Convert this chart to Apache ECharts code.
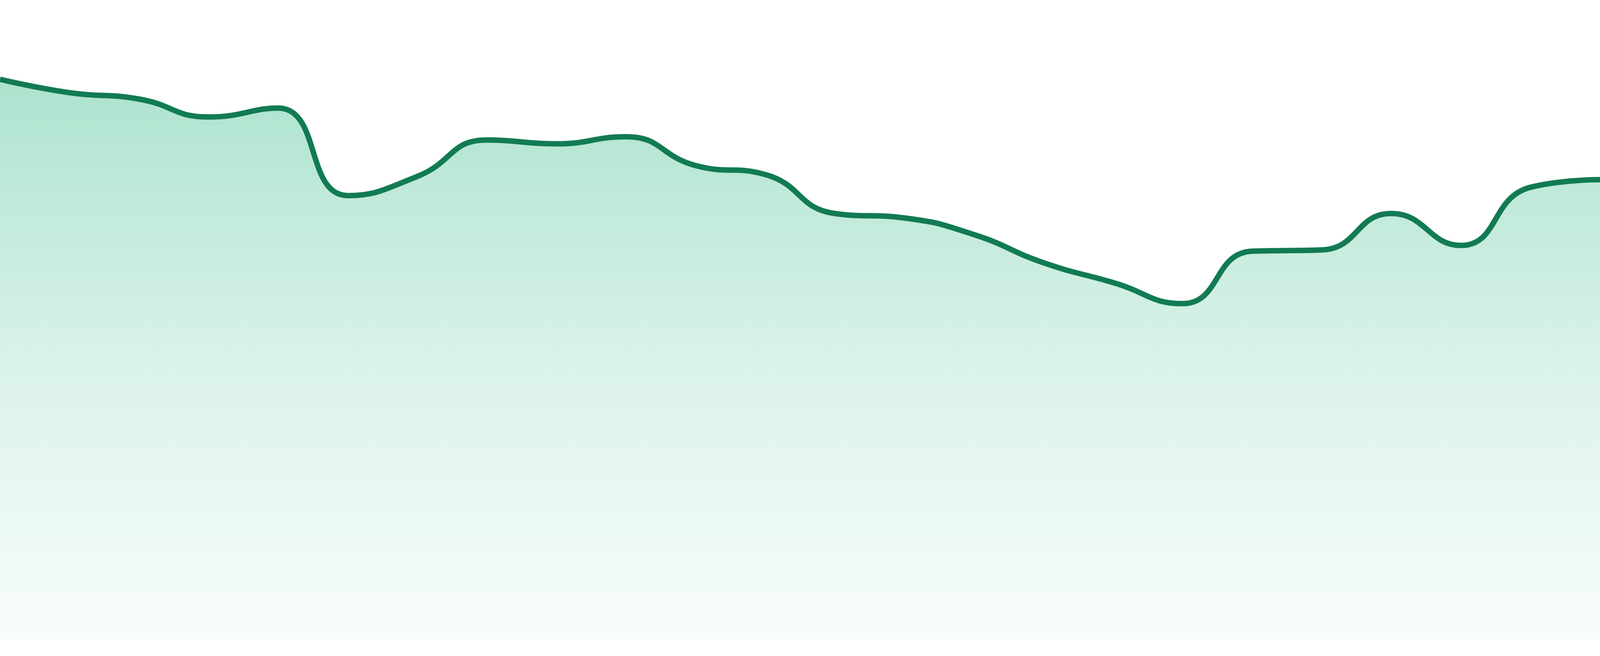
<!DOCTYPE html>
<html>
<head>
<meta charset="utf-8">
<script src="https://cdn.jsdelivr.net/npm/echarts@6/dist/echarts.min.js"></script>
<style>
html,body{margin:0;padding:0;background:#ffffff;width:100%;height:100%;overflow:hidden;}
#chart{width:100vw;height:100vh;}
</style>
</head>
<body>
<div id="chart"></div>
<script>
const categories = ['1','2','3','4','5','6','7','8','9','10','11','12','13','14','15','16','17','18','19','20','21','22','23','24'];
const values = [87.6, 85.5, 84.5, 81.7, 83.1, 69.4, 72.4, 78.1, 77.5, 78.6, 74.1, 72.7, 66.6, 65.9, 63.3, 58.9, 55.8, 52.5, 60.7, 60.9, 66.6, 61.6, 70.7, 71.9];
const yMin = 0;
const yMax = 100;

const el = document.getElementById('chart');
const s = el.clientHeight / 1680;
const chart = echarts.init(el, null, {renderer: 'canvas'});
chart.setOption({
  animation: false,
  backgroundColor: '#ffffff',
  grid: {left: 0, right: 0, top: 0, bottom: '2.56%', containLabel: false},
  xAxis: {
    type: 'category',
    data: categories,
    boundaryGap: false,
    show: false
  },
  yAxis: {
    type: 'value',
    min: yMin,
    max: yMax,
    show: false,
    splitLine: {show: false}
  },
  series: [{
    type: 'line',
    data: values,
    smooth: true,
    showSymbol: false,
    lineStyle: {color: '#127b53', width: 14 * s},
    itemStyle: {color: '#127b53'},
    areaStyle: {
      opacity: 1,
      color: new echarts.graphic.LinearGradient(0, 0, 0, 1, [
        {offset: 0, color: 'rgba(42,182,128,0.385)'},
        {offset: 0.5, color: 'rgba(42,182,128,0.175)'},
        {offset: 1, color: 'rgba(42,182,128,0.03)'}
      ])
    }
  }]
});
</script>
</body>
</html>
